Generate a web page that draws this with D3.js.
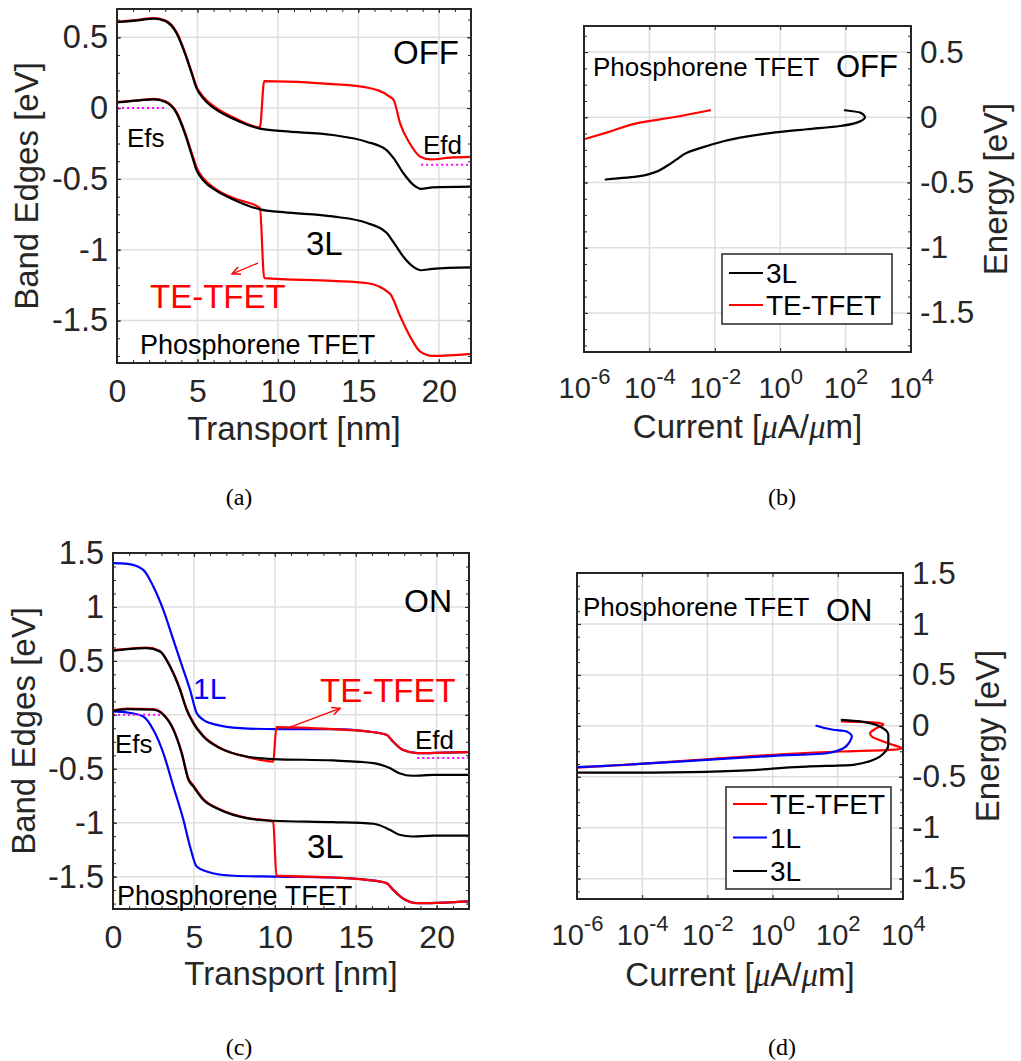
<!DOCTYPE html>
<html><head><meta charset="utf-8">
<script src="https://cdn.jsdelivr.net/npm/d3@7"></script>
<style>body{margin:0;background:#fff} svg{display:block}</style>
</head><body>
<svg id="c" width="1021" height="1061"></svg>
<script>
// ---------------- DATA ----------------
// Panel (a) OFF band edges [nm, eV]
const offCB3L = [[0,0.608],[1.43,0.622],[2.26,0.632],[2.98,0.616],[3.71,0.527],[4.22,0.386],[4.64,0.245],[4.95,0.139],[5.36,0.069],[6.19,-0.013],[7.22,-0.075],[8.88,-0.145],[10.33,-0.163],[13.4,-0.19],[15.5,-0.237],[16.75,-0.296],[17.2,-0.355],[17.8,-0.46],[18.4,-0.54],[18.9,-0.57],[19.6,-0.56],[22,-0.555]];
const offVB3L = [[0,0.04],[1.43,0.055],[2.26,0.062],[2.98,0.045],[3.71,-0.037],[4.22,-0.18],[4.64,-0.33],[4.95,-0.44],[5.36,-0.51],[6.19,-0.585],[7.22,-0.645],[8.88,-0.715],[10.33,-0.735],[13.4,-0.765],[15.5,-0.81],[16.75,-0.88],[17.2,-0.95],[17.8,-1.05],[18.4,-1.12],[18.9,-1.145],[19.6,-1.135],[22,-1.125]];
const offCBTE = [[0,0.61],[1.43,0.625],[2.26,0.636],[2.98,0.62],[3.71,0.535],[4.22,0.395],[4.64,0.255],[4.95,0.15],[5.36,0.08],[6.19,0.0],[7.22,-0.065],[8.88,-0.135],[9.15,0.19],[13.4,0.17],[15.5,0.146],[16.96,0.08],[17.2,0.056],[17.6,-0.11],[18.2,-0.25],[18.85,-0.343],[19.5,-0.362],[20.7,-0.35],[22,-0.345]];
const offVBTE = [[0,0.042],[1.43,0.057],[2.26,0.065],[2.98,0.05],[3.71,-0.03],[4.22,-0.17],[4.64,-0.315],[4.95,-0.42],[5.36,-0.495],[6.19,-0.575],[7.22,-0.635],[8.88,-0.705],[9.15,-1.2],[13.4,-1.22],[15.5,-1.235],[16.96,-1.31],[17.6,-1.47],[18.2,-1.61],[18.85,-1.72],[19.6,-1.75],[22,-1.735]];
const offEfs = [[0,0],[3.1,0]];
const offEfd = [[18.9,-0.4],[22,-0.4]];
const offArrow = [[8.76,-1.094],[7.15,-1.17]];

// Panel (b) OFF current spectra [uA/um, eV]
const offJ3L = [[95,0.054],[275,0.036],[390,0.0],[220,-0.041],[68,-0.067],[6.5,-0.092],[0.62,-0.118],[5.9e-2,-0.156],[5.6e-3,-0.221],[1.4e-3,-0.272],[6.8e-4,-0.323],[3.4e-4,-0.374],[1.3e-4,-0.426],[5.1e-5,-0.451],[4.6e-6,-0.477]];
const offJTE = [[7.1e-3,0.054],[5.4e-4,0.0],[5.1e-5,-0.041],[4.9e-6,-0.118],[1e-6,-0.169]];

// Panel (c) ON band edges [nm, eV]
const onCB1L = [[0,1.406],[0.9,1.4],[1.87,1.344],[2.49,1.19],[3.11,0.973],[3.73,0.695],[4.35,0.417],[4.76,0.232],[5.17,0.016],[5.58,-0.046],[6.41,-0.093],[7.85,-0.123],[10.1,-0.133],[13.6,-0.133],[15.7,-0.154],[16.9,-0.185],[17.3,-0.247],[17.9,-0.324],[18.8,-0.355],[20.5,-0.35],[22,-0.346]];
const onVB1L = [[0,0.031],[0.9,0.021],[1.87,-0.016],[2.49,-0.139],[3.11,-0.355],[3.73,-0.664],[4.35,-0.973],[4.76,-1.22],[5.17,-1.406],[5.79,-1.452],[7.44,-1.492],[10.1,-1.5],[13.6,-1.508],[15.7,-1.53],[16.9,-1.56],[17.3,-1.62],[17.9,-1.70],[18.8,-1.745],[20.5,-1.74],[22,-1.73]];
const onCB3L = [[0,0.593],[0.9,0.609],[2.08,0.618],[2.9,0.587],[3.52,0.448],[4.14,0.232],[4.55,0.046],[4.96,-0.077],[5.58,-0.201],[6.6,-0.309],[8.26,-0.386],[9.9,-0.41],[13.6,-0.423],[16.1,-0.448],[17.1,-0.494],[17.7,-0.541],[18.5,-0.565],[19.8,-0.556],[22,-0.556]];
const onVB3L = [[0,0.037],[0.9,0.053],[2.49,0.047],[3.11,0.0],[3.73,-0.139],[4.24,-0.355],[4.66,-0.602],[4.96,-0.664],[5.58,-0.788],[6.6,-0.88],[8.26,-0.958],[9.9,-0.982],[13.6,-0.995],[16.1,-1.01],[17.1,-1.066],[17.7,-1.112],[18.5,-1.128],[19.8,-1.12],[22,-1.12]];
const onCBTE = [[0,0.6],[0.9,0.612],[2.08,0.622],[2.9,0.592],[3.52,0.455],[4.14,0.24],[4.55,0.055],[4.96,-0.07],[5.58,-0.195],[6.6,-0.305],[8.26,-0.39],[9.9,-0.433],[10.1,-0.114],[13.6,-0.133],[15.7,-0.154],[16.9,-0.185],[17.3,-0.247],[17.9,-0.324],[18.8,-0.355],[20.5,-0.35],[22,-0.346]];
const onVBTE = [[0,0.042],[0.9,0.058],[2.49,0.052],[3.11,0.006],[3.73,-0.13],[4.24,-0.345],[4.66,-0.59],[4.96,-0.655],[5.58,-0.78],[6.6,-0.875],[8.26,-0.955],[9.9,-0.99],[10.1,-1.49],[13.6,-1.508],[15.7,-1.53],[16.9,-1.56],[17.3,-1.62],[17.9,-1.70],[18.8,-1.745],[20.5,-1.74],[22,-1.73]];
const onEfs = [[0,0],[2.9,0]];
const onEfd = [[18.8,-0.4],[22,-0.4]];
const onArrow = [[10.74,-0.125],[14.03,0.06]];

// Panel (d) ON current spectra [uA/um, eV]
const onJTE = [[132,0.043],[1230,0.033],[2500,0.016],[1550,-0.023],[980,-0.072],[1100,-0.105],[2500,-0.154],[8100,-0.21],[10000,-0.22],[4000,-0.236],[117,-0.252],[1.05,-0.285],[9.5e-3,-0.328],[8.5e-5,-0.374],[1e-6,-0.41]];
const onJ1L = [[22,0.0],[72,-0.039],[186,-0.056],[270,-0.105],[234,-0.154],[148,-0.22],[46,-0.269],[1.05,-0.295],[9.5e-3,-0.334],[8.5e-5,-0.374],[8.1e-6,-0.393],[1e-6,-0.406]];
const onJ3L = [[132,0.059],[480,0.043],[1950,-0.007],[3550,-0.088],[3550,-0.187],[1950,-0.302],[300,-0.383],[11,-0.4],[0.015,-0.449],[8.5e-5,-0.459],[1e-6,-0.46]];

// Ticks
const bandXTicks = [0,5,10,15,20];
const bandXMinor = d3.range(0,23,1);
const curXTicks = [1e-6,1e-4,1e-2,1e0,1e2,1e4];
const yTicksOff = [-1.5,-1,-0.5,0,0.5];
const yTicksOn = [-1.5,-1,-0.5,0,0.5,1,1.5];

// ---------------- DRAWING ----------------
const FONT = '"Liberation Sans", Arial, Helvetica, sans-serif';
const AX = '#262626';
const svg = d3.select('#c');

function panel(p) {
  const g = svg.append('g');
  const x = (p.log ? d3.scaleLog() : d3.scaleLinear()).domain(p.xDomain).range([p.l, p.r]);
  const y = d3.scaleLinear().domain(p.yDomain).range([p.b, p.t]);
  const clipId = 'clip' + p.name;
  svg.append('clipPath').attr('id', clipId).append('rect')
    .attr('x', p.l).attr('y', p.t).attr('width', p.r - p.l).attr('height', p.b - p.t);

  // grid
  const grid = g.append('g').attr('stroke', '#dedede').attr('stroke-width', 1.5);
  grid.selectAll('line.gx').data(p.xTicks).join('line').attr('class','gx')
    .attr('x1', d => x(d)).attr('x2', d => x(d)).attr('y1', p.t).attr('y2', p.b);
  grid.selectAll('line.gy').data(p.yTicks).join('line').attr('class','gy')
    .attr('y1', d => y(d)).attr('y2', d => y(d)).attr('x1', p.l).attr('x2', p.r);

  // series
  const lg = g.append('g').attr('clip-path', `url(#${clipId})`);
  p.series.forEach(s => {
    const gen = d3.line().x(d => x(d[0])).y(d => y(d[1])).curve(s.curve || d3.curveMonotoneX);
    lg.append('path').attr('d', gen(s.data)).attr('fill', 'none')
      .attr('stroke', s.color).attr('stroke-width', s.width || 2.2)
      .attr('stroke-dasharray', s.dash || null)
      .attr('stroke-linejoin', 'round').attr('stroke-linecap', s.dash ? 'butt' : 'round');
  });

  // arrows
  (p.arrows || []).forEach(a => {
    const [x0, y0] = [x(a.data[0][0]), y(a.data[0][1])];
    const [x1, y1] = [x(a.data[1][0]), y(a.data[1][1])];
    const ang = Math.atan2(y1 - y0, x1 - x0);
    const hl = 9, hw = 0.45;
    g.append('line').attr('x1', x0).attr('y1', y0).attr('x2', x1).attr('y2', y1)
      .attr('stroke', a.color).attr('stroke-width', 1.3);
    const pts = [[x1 - hl*Math.cos(ang - hw), y1 - hl*Math.sin(ang - hw)], [x1, y1],
                 [x1 - hl*Math.cos(ang + hw), y1 - hl*Math.sin(ang + hw)]];
    g.append('path').attr('d', d3.line()(pts)).attr('fill', 'none')
      .attr('stroke', a.color).attr('stroke-width', 1.5);
  });

  // ticks
  const maj = 4, mn = 3;
  const noLab = () => '';
  const yFmt = d => String(d);
  const styleAx = sel => { sel.select('.domain').remove(); sel.attr('color', AX).attr('font-family', FONT); };

  // bottom
  const bx = g.append('g').attr('transform', `translate(0,${p.b})`)
    .call(d3.axisBottom(x).tickValues(p.xTicks).tickSizeInner(-maj).tickSizeOuter(0).tickFormat(p.log ? noLab : yFmt));
  styleAx(bx);
  bx.attr('font-size', p.log ? 29 : 32);
  bx.selectAll('text').attr('dy', null).attr('y', p.xLabOff).attr('fill', AX);
  if (p.log) {
    bx.selectAll('text').each(function(d) {
      const t = d3.select(this);
      t.text(null);
      t.append('tspan').text('10');
      t.append('tspan').attr('dy', -14).attr('font-size', 22).text(String(Math.round(Math.log10(d))));
    });
  }
  // top
  const tx = g.append('g').attr('transform', `translate(0,${p.t})`)
    .call(d3.axisTop(x).tickValues(p.xTicks).tickSizeInner(-maj).tickSizeOuter(0).tickFormat(noLab));
  styleAx(tx);
  if (p.xMinor) {
    [[d3.axisBottom, p.b], [d3.axisTop, p.t]].forEach(([fn, yy]) => {
      const m = g.append('g').attr('transform', `translate(0,${yy})`)
        .call(fn(x).tickValues(p.xMinor).tickSizeInner(-mn).tickSizeOuter(0).tickFormat(noLab));
      styleAx(m);
    });
  }
  // y axes
  const yLabelsRight = p.yRight;
  const la = g.append('g').attr('transform', `translate(${p.l},0)`)
    .call(d3.axisLeft(y).tickValues(p.yTicks).tickSizeInner(-maj).tickSizeOuter(0).tickPadding(9).tickFormat(yLabelsRight ? noLab : yFmt));
  styleAx(la); la.attr('font-size', 32.5); la.selectAll('text').attr('fill', AX);
  const ra = g.append('g').attr('transform', `translate(${p.r},0)`)
    .call(d3.axisRight(y).tickValues(p.yTicks).tickSizeInner(-maj).tickSizeOuter(0).tickPadding(9).tickFormat(yLabelsRight ? yFmt : noLab));
  styleAx(ra); ra.attr('font-size', 31.5); ra.selectAll('text').attr('fill', AX);
  [[d3.axisLeft, p.l], [d3.axisRight, p.r]].forEach(([fn, xx]) => {
    const m = g.append('g').attr('transform', `translate(${xx},0)`)
      .call(fn(y).tickValues(p.yMinor).tickSizeInner(-mn).tickSizeOuter(0).tickFormat(noLab));
    styleAx(m);
  });

  // box
  g.append('rect').attr('x', p.l).attr('y', p.t).attr('width', p.r - p.l).attr('height', p.b - p.t)
    .attr('fill', 'none').attr('stroke', AX).attr('stroke-width', 2);

  // annotations
  (p.texts || []).forEach(t => {
    g.append('text').attr('x', p.l + t.dx).attr('y', p.t + t.dy)
      .attr('font-family', FONT).attr('font-size', t.size).attr('fill', t.color || '#000')
      .text(t.text);
  });

  // legend
  if (p.legend) {
    const L = p.legend;
    g.append('rect').attr('x', L.x).attr('y', L.y).attr('width', L.w).attr('height', L.h)
      .attr('fill', '#fff').attr('stroke', AX).attr('stroke-width', 1.5);
    L.items.forEach((it, i) => {
      const yy = L.y0 + i * L.step;
      g.append('line').attr('x1', L.x + 7).attr('x2', L.x + 41).attr('y1', yy).attr('y2', yy)
        .attr('stroke', it.color).attr('stroke-width', 2.2);
      g.append('text').attr('x', L.x + 44).attr('y', yy + 10).attr('font-family', FONT)
        .attr('font-size', 28).attr('fill', '#000').text(it.label);
    });
  }

  // axis labels
  const xl = g.append('text').attr('x', (p.l + p.r) / 2).attr('y', p.xTitleY)
    .attr('text-anchor', 'middle').attr('font-family', FONT).attr('font-size', 33).attr('fill', AX);
  if (p.log) {
    xl.append('tspan').text('Current [');
    xl.append('tspan').attr('font-style', 'italic').attr('font-family', '"Liberation Serif", serif').text('μ');
    xl.append('tspan').text('A/');
    xl.append('tspan').attr('font-style', 'italic').attr('font-family', '"Liberation Serif", serif').text('μ');
    xl.append('tspan').text('m]');
  } else {
    xl.text('Transport [nm]');
  }
  g.append('text').attr('transform', `translate(${p.yTitleX},${(p.t + p.b) / 2}) rotate(-90)`)
    .attr('text-anchor', 'middle').attr('font-family', FONT).attr('font-size', 33).attr('fill', AX)
    .text(p.yTitle);

  // caption
  g.append('text').attr('x', p.capX).attr('y', p.capY).attr('text-anchor', 'middle')
    .attr('font-family', '"Liberation Serif", "DejaVu Serif", serif').attr('font-size', 24).attr('fill', '#000')
    .text(p.caption);
}

const RED = '#ff0000', BLUE = '#0000ff', BLK = '#000000', MAG = '#ff00ff';

panel({
  name: 'a', l: 117, r: 471, t: 9, b: 363, xDomain: [0, 22], yDomain: [-1.8, 0.7],
  xTicks: bandXTicks, xMinor: bandXMinor, yTicks: yTicksOff, yMinor: d3.range(-1.75, 0.7, 0.125),
  xLabOff: 39, xTitleY: 440, yTitleX: 38, yTitle: 'Band Edges [eV]',
  series: [
    {data: offCBTE, color: RED}, {data: offVBTE, color: RED},
    {data: offCB3L, color: BLK}, {data: offVB3L, color: BLK},
    {data: offEfs, color: MAG, width: 2, dash: '2,3', curve: d3.curveLinear},
    {data: offEfd, color: MAG, width: 2, dash: '2,3', curve: d3.curveLinear}
  ],
  arrows: [{data: offArrow, color: RED}],
  texts: [
    {text: 'OFF', dx: 276, dy: 55, size: 33},
    {text: 'Efs', dx: 10, dy: 138, size: 26},
    {text: 'Efd', dx: 306, dy: 145, size: 26},
    {text: '3L', dx: 189, dy: 246, size: 33},
    {text: 'TE-TFET', dx: 33, dy: 299, size: 33, color: RED},
    {text: 'Phosphorene TFET', dx: 23, dy: 345, size: 27}
  ],
  capX: 239, capY: 505, caption: '(a)'
});

panel({
  name: 'b', log: true, l: 584, r: 911, t: 26, b: 352, xDomain: [1e-6, 1e4], yDomain: [-1.8, 0.7],
  xTicks: curXTicks, yTicks: yTicksOff, yMinor: d3.range(-1.75, 0.7, 0.125), yRight: true,
  xLabOff: 46, xTitleY: 438, yTitleX: 1007, yTitle: 'Energy [eV]',
  series: [
    {data: offJ3L, color: BLK, curve: d3.curveMonotoneY},
    {data: offJTE, color: RED, curve: d3.curveMonotoneY}
  ],
  texts: [
    {text: 'Phosphorene TFET', dx: 9, dy: 50, size: 26},
    {text: 'OFF', dx: 252, dy: 51, size: 31}
  ],
  legend: {x: 722, y: 254, w: 170, h: 70, y0: 273, step: 32,
    items: [{label: '3L', color: BLK}, {label: 'TE-TFET', color: RED}]},
  capX: 782, capY: 505, caption: '(b)'
});

panel({
  name: 'c', l: 113, r: 469, t: 553, b: 909, xDomain: [0, 22], yDomain: [-1.8, 1.5],
  xTicks: bandXTicks, xMinor: bandXMinor, yTicks: yTicksOn, yMinor: d3.range(-1.75, 1.5, 0.125),
  xLabOff: 39, xTitleY: 985, yTitleX: 35, yTitle: 'Band Edges [eV]',
  series: [
    {data: onCB1L, color: BLUE}, {data: onVB1L, color: BLUE},
    {data: onCBTE, color: RED}, {data: onVBTE, color: RED},
    {data: onCB3L, color: BLK}, {data: onVB3L, color: BLK},
    {data: onEfs, color: MAG, width: 2, dash: '2,3', curve: d3.curveLinear},
    {data: onEfd, color: MAG, width: 2, dash: '2,3', curve: d3.curveLinear}
  ],
  arrows: [{data: onArrow, color: RED}],
  texts: [
    {text: 'ON', dx: 291, dy: 59, size: 32},
    {text: '1L', dx: 80, dy: 146, size: 30, color: BLUE},
    {text: 'TE-TFET', dx: 207, dy: 149, size: 33, color: RED},
    {text: 'Efs', dx: 2, dy: 200, size: 26},
    {text: 'Efd', dx: 302, dy: 196, size: 26},
    {text: '3L', dx: 194, dy: 305, size: 33},
    {text: 'Phosphorene TFET', dx: 4, dy: 352, size: 27}
  ],
  capX: 239, capY: 1055, caption: '(c)'
});

panel({
  name: 'd', log: true, l: 577, r: 903, t: 573, b: 899, xDomain: [1e-6, 1e4], yDomain: [-1.7, 1.5],
  xTicks: curXTicks, yTicks: yTicksOn, yMinor: d3.range(-1.625, 1.5, 0.125), yRight: true,
  xLabOff: 46, xTitleY: 986, yTitleX: 999, yTitle: 'Energy [eV]',
  series: [
    {data: onJTE, color: RED, curve: d3.curveMonotoneY},
    {data: onJ1L, color: BLUE, curve: d3.curveMonotoneY},
    {data: onJ3L, color: BLK, curve: d3.curveMonotoneY}
  ],
  texts: [
    {text: 'Phosphorene TFET', dx: 6, dy: 43, size: 26},
    {text: 'ON', dx: 249, dy: 48, size: 31}
  ],
  legend: {x: 726, y: 787, w: 165, h: 102, y0: 804, step: 33.5,
    items: [{label: 'TE-TFET', color: RED}, {label: '1L', color: BLUE}, {label: '3L', color: BLK}]},
  capX: 782, capY: 1055, caption: '(d)'
});
</script>
</body></html>
